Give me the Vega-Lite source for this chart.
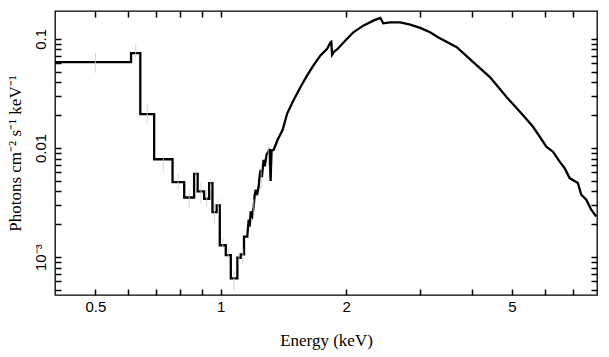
{
  "$schema": "https://vega.github.io/schema/vega-lite/v6.json",
  "width": 542,
  "height": 284,
  "autosize": {"type": "none"},
  "padding": {"left": 55, "top": 11, "right": 12, "bottom": 62},
  "background": "white",
  "config": {
    "view": {"stroke": "black", "strokeWidth": 1.3},
    "axis": {"grid": false, "domain": false, "tickColor": "black", "tickWidth": 1.5}
  },
  "layer": [
    {
      "data": {"values": [
        {"i": 0, "E": 0.4, "F": 0.0612},
        {"i": 1, "E": 0.609, "F": 0.0612},
        {"i": 2, "E": 0.609, "F": 0.0739},
        {"i": 3, "E": 0.641, "F": 0.0739},
        {"i": 4, "E": 0.641, "F": 0.0204},
        {"i": 5, "E": 0.692, "F": 0.0204},
        {"i": 6, "E": 0.692, "F": 0.00789},
        {"i": 7, "E": 0.766, "F": 0.00789},
        {"i": 8, "E": 0.766, "F": 0.00487},
        {"i": 9, "E": 0.817, "F": 0.00487},
        {"i": 10, "E": 0.817, "F": 0.00352},
        {"i": 11, "E": 0.863, "F": 0.00352},
        {"i": 12, "E": 0.863, "F": 0.00579},
        {"i": 13, "E": 0.88, "F": 0.00579},
        {"i": 14, "E": 0.88, "F": 0.004},
        {"i": 15, "E": 0.912, "F": 0.004},
        {"i": 16, "E": 0.912, "F": 0.00343},
        {"i": 17, "E": 0.938, "F": 0.00343},
        {"i": 18, "E": 0.938, "F": 0.00477},
        {"i": 19, "E": 0.955, "F": 0.00477},
        {"i": 20, "E": 0.955, "F": 0.00259},
        {"i": 21, "E": 0.978, "F": 0.00259},
        {"i": 22, "E": 0.978, "F": 0.00298},
        {"i": 23, "E": 0.9945, "F": 0.00298},
        {"i": 24, "E": 0.9945, "F": 0.001286},
        {"i": 25, "E": 1.028, "F": 0.001286},
        {"i": 26, "E": 1.028, "F": 0.001043},
        {"i": 27, "E": 1.057, "F": 0.001043},
        {"i": 28, "E": 1.057, "F": 0.00064},
        {"i": 29, "E": 1.096, "F": 0.00064},
        {"i": 30, "E": 1.096, "F": 0.000987},
        {"i": 31, "E": 1.116, "F": 0.000987},
        {"i": 32, "E": 1.116, "F": 0.00106},
        {"i": 33, "E": 1.137, "F": 0.00106},
        {"i": 34, "E": 1.137, "F": 0.00154},
        {"i": 35, "E": 1.158, "F": 0.00154},
        {"i": 36, "E": 1.158, "F": 0.00158},
        {"i": 37, "E": 1.167, "F": 0.00221},
        {"i": 38, "E": 1.173, "F": 0.0019},
        {"i": 39, "E": 1.18, "F": 0.00263},
        {"i": 40, "E": 1.19, "F": 0.0024},
        {"i": 41, "E": 1.199, "F": 0.00284},
        {"i": 42, "E": 1.206, "F": 0.0037},
        {"i": 43, "E": 1.213, "F": 0.00414},
        {"i": 44, "E": 1.222, "F": 0.0037},
        {"i": 45, "E": 1.233, "F": 0.00444},
        {"i": 46, "E": 1.24, "F": 0.0056},
        {"i": 47, "E": 1.246, "F": 0.0063},
        {"i": 48, "E": 1.255, "F": 0.0054},
        {"i": 49, "E": 1.267, "F": 0.0078},
        {"i": 50, "E": 1.275, "F": 0.0068},
        {"i": 51, "E": 1.288, "F": 0.0087},
        {"i": 52, "E": 1.3, "F": 0.0092},
        {"i": 53, "E": 1.31, "F": 0.0098},
        {"i": 54, "E": 1.317, "F": 0.005},
        {"i": 55, "E": 1.324, "F": 0.0095},
        {"i": 56, "E": 1.339, "F": 0.0096},
        {"i": 57, "E": 1.369, "F": 0.0119},
        {"i": 58, "E": 1.407, "F": 0.0146},
        {"i": 59, "E": 1.444, "F": 0.0208},
        {"i": 60, "E": 1.495, "F": 0.0274},
        {"i": 61, "E": 1.554, "F": 0.0362},
        {"i": 62, "E": 1.612, "F": 0.0463},
        {"i": 63, "E": 1.669, "F": 0.0571},
        {"i": 64, "E": 1.735, "F": 0.0705},
        {"i": 65, "E": 1.8, "F": 0.0811},
        {"i": 66, "E": 1.834, "F": 0.0931},
        {"i": 67, "E": 1.842, "F": 0.094},
        {"i": 68, "E": 1.85, "F": 0.0715},
        {"i": 69, "E": 1.874, "F": 0.077},
        {"i": 70, "E": 1.902, "F": 0.08},
        {"i": 71, "E": 1.991, "F": 0.0965},
        {"i": 72, "E": 2.081, "F": 0.1149},
        {"i": 73, "E": 2.198, "F": 0.1322},
        {"i": 74, "E": 2.323, "F": 0.1468},
        {"i": 75, "E": 2.415, "F": 0.1553},
        {"i": 76, "E": 2.455, "F": 0.1387},
        {"i": 77, "E": 2.551, "F": 0.1416},
        {"i": 78, "E": 2.696, "F": 0.1416},
        {"i": 79, "E": 2.848, "F": 0.135},
        {"i": 80, "E": 3.01, "F": 0.126},
        {"i": 81, "E": 3.18, "F": 0.1149},
        {"i": 82, "E": 3.323, "F": 0.1034},
        {"i": 83, "E": 3.685, "F": 0.0838},
        {"i": 84, "E": 4.036, "F": 0.0612},
        {"i": 85, "E": 4.426, "F": 0.0447},
        {"i": 86, "E": 4.852, "F": 0.02935},
        {"i": 87, "E": 5.316, "F": 0.02},
        {"i": 88, "E": 5.617, "F": 0.01564},
        {"i": 89, "E": 5.831, "F": 0.01268},
        {"i": 90, "E": 6.047, "F": 0.01028},
        {"i": 91, "E": 6.271, "F": 0.00925},
        {"i": 92, "E": 6.508, "F": 0.0075},
        {"i": 93, "E": 6.69, "F": 0.00653},
        {"i": 94, "E": 6.877, "F": 0.0053},
        {"i": 95, "E": 7.198, "F": 0.00477},
        {"i": 96, "E": 7.334, "F": 0.00373},
        {"i": 97, "E": 7.539, "F": 0.00336},
        {"i": 98, "E": 7.749, "F": 0.00272},
        {"i": 99, "E": 7.966, "F": 0.00236}
      ]},
      "mark": {"type": "line", "color": "black", "strokeWidth": 2.3},
      "encoding": {
        "order": {"field": "i", "type": "quantitative"},
        "x": {
          "field": "E", "type": "quantitative",
          "scale": {"type": "log", "domain": [0.4, 8], "nice": false},
          "axis": {
            "orient": "bottom",
            "title": "Energy (keV)",
            "titleFont": "Liberation Serif", "titleFontSize": 17, "titleFontWeight": "normal", "titleColor": "black",
            "titlePadding": 18,
            "values": [0.5, 0.6, 0.7, 0.8, 0.9, 1, 2, 3, 4, 5, 6, 7],
            "labelExpr": "datum.value == 0.5 ? '0.5' : datum.value == 1 ? '1' : datum.value == 2 ? '2' : datum.value == 5 ? '5' : ''",
            "labelFont": "Liberation Sans", "labelFontSize": 15, "labelColor": "black",
            "labelOverlap": false,
            "tickSize": -6,
            "labelPadding": 10
          }
        },
        "y": {
          "field": "F", "type": "quantitative",
          "scale": {"type": "log", "domain": [0.00045, 0.18], "nice": false},
          "axis": {
            "orient": "left",
            "title": "Photons cm⁻² s⁻¹ keV⁻¹",
            "titleFont": "Liberation Serif", "titleFontSize": 17, "titleFontWeight": "normal", "titleColor": "black",
            "titlePadding": 9,
            "values": [0.0005, 0.0006, 0.0007, 0.0008, 0.0009, 0.001, 0.002, 0.003, 0.004, 0.005, 0.006, 0.007, 0.008, 0.009, 0.01, 0.02, 0.03, 0.04, 0.05, 0.06, 0.07, 0.08, 0.09, 0.1],
            "labelExpr": "datum.value == 0.1 ? '0.1' : datum.value == 0.01 ? '0.01' : datum.value == 0.001 ? '10⁻³' : ''",
            "labelFont": "Liberation Sans", "labelFontSize": 15, "labelColor": "black",
            "labelOverlap": false,
            "labelAngle": -90,
            "labelAlign": "center",
            "labelBaseline": "bottom",
            "tickSize": -6,
            "labelPadding": 13
          }
        }
      }
    },
    {
      "data": {"values": [
        {"E": 0.5, "lo": 0.049, "hi": 0.075},
        {"E": 0.625, "lo": 0.0675, "hi": 0.0906},
        {"E": 0.666, "lo": 0.0169, "hi": 0.0257},
        {"E": 0.728, "lo": 0.0061, "hi": 0.0081},
        {"E": 0.79, "lo": 0.0041, "hi": 0.0058},
        {"E": 0.84, "lo": 0.0028, "hi": 0.0041},
        {"E": 0.871, "lo": 0.0048, "hi": 0.0063},
        {"E": 0.896, "lo": 0.0031, "hi": 0.0048},
        {"E": 0.925, "lo": 0.0029, "hi": 0.0041},
        {"E": 0.946, "lo": 0.0041, "hi": 0.0052},
        {"E": 0.966, "lo": 0.002, "hi": 0.0031},
        {"E": 0.986, "lo": 0.0024, "hi": 0.0034},
        {"E": 1.011, "lo": 0.0012, "hi": 0.0015},
        {"E": 1.042, "lo": 0.00095, "hi": 0.0012},
        {"E": 1.076, "lo": 0.0005, "hi": 0.00075},
        {"E": 1.106, "lo": 0.0009, "hi": 0.0011},
        {"E": 1.13, "lo": 0.00087, "hi": 0.0012},
        {"E": 1.2, "lo": 0.0022, "hi": 0.0034},
        {"E": 1.25, "lo": 0.0042, "hi": 0.0068},
        {"E": 1.3, "lo": 0.0068, "hi": 0.011}
      ]},
      "mark": {"type": "rule", "color": "#cccccc", "strokeWidth": 1, "opacity": 0.8},
      "encoding": {
        "x": {
          "field": "E", "type": "quantitative",
          "axis": {"orient": "top", "title": null, "labels": false, "values": [0.5, 0.6, 0.7, 0.8, 0.9, 1, 2, 3, 4, 5, 6, 7], "tickSize": -6}
        },
        "y": {
          "field": "lo", "type": "quantitative",
          "axis": {"orient": "right", "title": null, "labels": false, "values": [0.0005, 0.0006, 0.0007, 0.0008, 0.0009, 0.001, 0.002, 0.003, 0.004, 0.005, 0.006, 0.007, 0.008, 0.009, 0.01, 0.02, 0.03, 0.04, 0.05, 0.06, 0.07, 0.08, 0.09, 0.1], "tickSize": -6}
        },
        "y2": {"field": "hi"}
      }
    }
  ],
  "resolve": {"axis": {"x": "independent", "y": "independent"}}
}
